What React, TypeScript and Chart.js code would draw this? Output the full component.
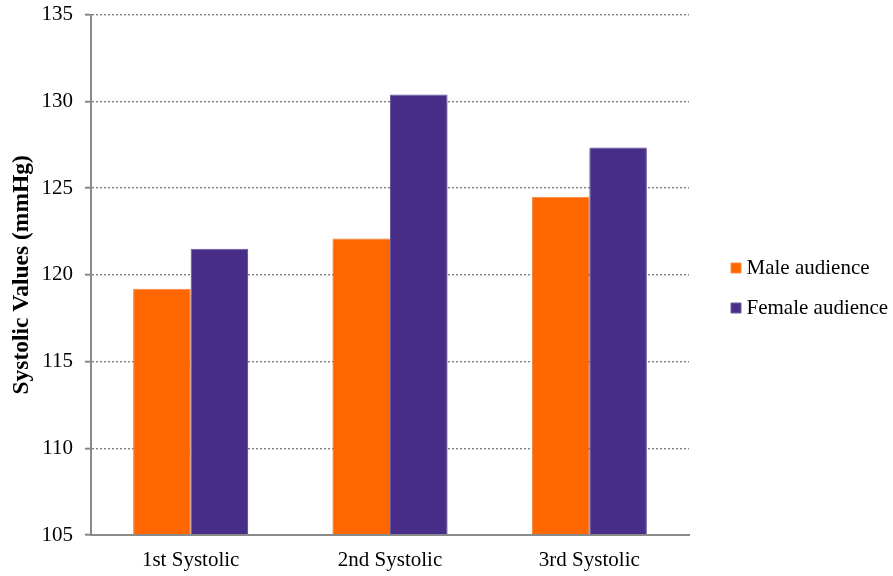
import React, { useEffect, useRef } from 'react';
import { Chart, registerables } from 'chart.js';

Chart.register(...registerables);

const categories = ['1st Systolic', '2nd Systolic', '3rd Systolic'];
const seriesNames = ['Male audience', 'Female audience'];
const maleValues = [119.2, 122.1, 124.5];
const femaleValues = [121.5, 130.4, 127.35];
const yTicks = [105, 110, 115, 120, 125, 130, 135];
const yTitle = 'Systolic Values (mmHg)';

const FONT = "'Liberation Serif', 'Times New Roman', Times, serif";
const AXIS_GRAY = '#8a8a8a';

const shadowPlugin = {
  id: 'barShadow',
  beforeDatasetsDraw(chart: any) {
    const ctx = chart.ctx;
    ctx.save();
    ctx.shadowColor = 'rgba(0,0,0,0.28)';
    ctx.shadowBlur = 4;
    ctx.shadowOffsetX = 1;
    ctx.shadowOffsetY = 2;
  },
  afterDatasetsDraw(chart: any) {
    chart.ctx.restore();
  },
};

export default function App() {
  const ref = useRef<HTMLCanvasElement | null>(null);

  useEffect(() => {
    if (!ref.current) return;
    const chart = new Chart(ref.current, {
      type: 'bar',
      data: {
        labels: categories,
        datasets: [
          {
            label: seriesNames[0],
            data: maleValues,
            backgroundColor: '#FF6600',
            borderColor: '#FF8A45',
            borderWidth: 1,
            categoryPercentage: 0.577,
            barPercentage: 1,
          },
          {
            label: seriesNames[1],
            data: femaleValues,
            backgroundColor: '#482E88',
            borderColor: '#6C5DA6',
            borderWidth: 1,
            categoryPercentage: 0.577,
            barPercentage: 1,
          },
        ],
      },
      plugins: [shadowPlugin],
      options: {
        responsive: false,
        animation: false,
        devicePixelRatio: 1,
        layout: { padding: { top: 0, left: 0, right: 2, bottom: 0 } },
        scales: {
          x: {
            grid: { display: false, drawTicks: false },
            border: { display: true, color: AXIS_GRAY, width: 2, z: 1 },
            ticks: { padding: 13, color: '#000', font: { family: FONT, size: 21 } },
            afterFit: (s: any) => {
              s.height = 41;
            },
          },
          y: {
            min: 105,
            max: 135,
            afterBuildTicks: (s: any) => {
              s.ticks = yTicks.map((v) => ({ value: v }));
            },
            ticks: {
              padding: 12,
              color: '#000',
              font: { family: FONT, size: 21, lineHeight: 0.26 },
            },
            grid: {
              color: '#808080',
              lineWidth: 1.4,
              drawTicks: true,
              tickLength: 6,
              tickColor: AXIS_GRAY,
              tickWidth: 2,
            },
            border: { display: true, color: AXIS_GRAY, width: 2, dash: [2, 2], z: 1 },
            title: {
              display: true,
              text: yTitle,
              color: '#000',
              font: { family: FONT, size: 23.5, weight: 'bold' },
              padding: { top: 7.4, bottom: 0 },
            },
            afterFit: (s: any) => {
              s.width = 91;
            },
          },
          spacer: {
            type: 'linear',
            position: 'right',
            display: true,
            grid: { display: false, drawTicks: false },
            border: { display: false },
            ticks: { display: false },
            afterFit: (s: any) => {
              s.width = 28;
            },
          },
        },
        plugins: {
          legend: {
            position: 'right',
            align: 'center',
            maxWidth: 174,
            labels: {
              usePointStyle: true,
              pointStyle: 'rect',
              boxWidth: 0.01,
              boxHeight: 10,
              padding: 19,
              color: '#000',
              font: { family: FONT, size: 21 },
            },
          },
          tooltip: { enabled: false },
        },
      },
    } as any);
    return () => chart.destroy();
  }, []);

  return (
    <div style={{ position: 'fixed', left: 0, top: 0, width: 893, height: 576, background: '#fff' }}>
      <canvas ref={ref} width={893} height={576} style={{ display: 'block', width: 893, height: 576 }} />
    </div>
  );
}
